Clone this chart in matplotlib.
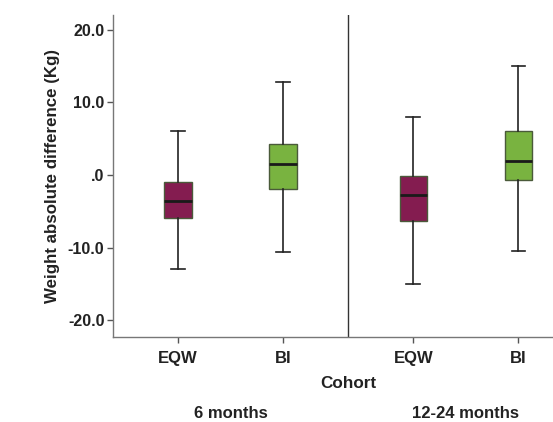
import matplotlib.pyplot as plt

plt.rcParams['font.family'] = ['Liberation Sans', 'DejaVu Sans']

groups = ["EQW", "BI", "EQW", "BI"]
cohorts = ["6 months", "12-24 months"]
whislo = [-12.9, -10.6, -15.0, -10.5]
q1 = [-5.9, -2.0, -6.3, -0.7]
med = [-3.6, 1.5, -2.8, 1.9]
q3 = [-1.0, 4.2, -0.1, 6.0]
whishi = [6.0, 12.8, 8.0, 15.0]
colors = ["#841C50", "#79B340", "#841C50", "#79B340"]

panel_w = 2.24
positions = [0.62, 1.62, panel_w + 0.62, panel_w + 1.62]

stats = [dict(whislo=a, q1=b, med=c, q3=d, whishi=e, fliers=[])
         for a, b, c, d, e in zip(whislo, q1, med, q3, whishi)]

fig = plt.figure(figsize=(5.53, 4.22), dpi=100)
ax = fig.add_axes([0.204, 0.2014, 0.796, 0.7631])

bp = ax.bxp(stats, positions=positions, widths=0.26, patch_artist=True,
            showfliers=False,
            boxprops=dict(edgecolor="#4a5a3a", linewidth=1.0),
            medianprops=dict(color="#1a1a1a", linewidth=2.0),
            whiskerprops=dict(color="#222222", linewidth=1.2),
            capprops=dict(color="#222222", linewidth=1.2))
for patch, c in zip(bp["boxes"], colors):
    patch.set_facecolor(c)

ax.axvline(panel_w, color="#333333", linewidth=1.0)

ax.set_xlim(0, 4.19)
ax.set_ylim(-22.3, 22.0)
ax.set_yticks([20, 10, 0, -10, -20])
ax.set_yticklabels(["20.0", "10.0", ".0", "-10.0", "-20.0"])
ax.set_xticks(positions)
ax.set_xticklabels(groups)

for s in ["top", "right"]:
    ax.spines[s].set_visible(False)
for s in ["left", "bottom"]:
    ax.spines[s].set_color("#777777")
    ax.spines[s].set_linewidth(1.0)

ax.tick_params(axis="both", colors="#555555", length=4, width=1.0)
for lab in ax.get_yticklabels():
    lab.set_fontweight("bold")
    lab.set_fontsize(11.5)
    lab.set_color("#222222")
for lab in ax.get_xticklabels():
    lab.set_fontweight("bold")
    lab.set_fontsize(12)
    lab.set_color("#222222")
ax.tick_params(axis="x", pad=6)
ax.tick_params(axis="y", pad=2)

ax.set_ylabel("Weight absolute difference (Kg)", fontsize=12.2,
              fontweight="bold", color="#222222", labelpad=6)

fig.text(348 / 553, 1 - 384 / 422, "Cohort", ha="center", va="center",
         fontsize=12.3, fontweight="bold", color="#222222")
for i, name in enumerate(cohorts):
    xc = 113 + panel_w * 105 * (i + 0.5)
    fig.text(xc / 553, 1 - 414 / 422, name, ha="center", va="center",
             fontsize=12, fontweight="bold", color="#222222")

fig.savefig("out.png", dpi=100)
